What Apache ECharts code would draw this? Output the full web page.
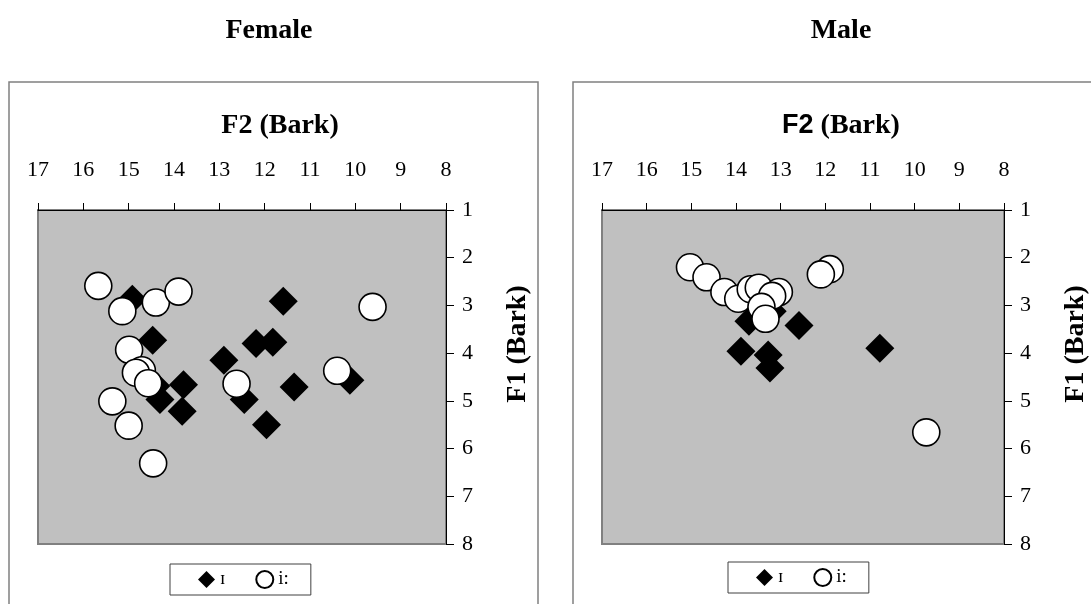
<!DOCTYPE html>
<html>
<head>
<meta charset="utf-8">
<script src="https://cdn.jsdelivr.net/npm/echarts@6/dist/echarts.min.js"></script>
<style>
html,body{margin:0;padding:0;background:#fff;}
#c{width:1091px;height:604px;}
</style>
</head>
<body>
<div id="c"></div>
<script>
// Data: [F2 (Bark), F1 (Bark)]
const femaleI = [
  [14.92, 2.87], [14.47, 3.73], [11.59, 2.91], [12.19, 3.80], [11.82, 3.77],
  [12.90, 4.15], [13.79, 4.66], [14.40, 4.69], [14.31, 4.97], [13.82, 5.22],
  [12.45, 4.97], [11.35, 4.71], [11.96, 5.50], [10.12, 4.57]
];
const femaleII = [
  [15.67, 2.59], [15.14, 3.12], [14.40, 2.94], [13.90, 2.71], [9.62, 3.03],
  [14.99, 3.93], [14.71, 4.36], [14.84, 4.41], [14.57, 4.63], [12.62, 4.64],
  [10.40, 4.37], [15.36, 5.01], [15.00, 5.52], [14.46, 6.31]
];
const maleI = [
  [12.59, 3.42], [10.78, 3.90], [13.89, 3.96], [13.28, 4.04], [13.24, 4.31],
  [13.71, 3.33], [13.19, 3.12]
];
const maleII = [
  [15.03, 2.20], [14.66, 2.41], [14.26, 2.72], [13.95, 2.86], [13.67, 2.66],
  [13.49, 2.63], [13.04, 2.72], [13.19, 2.80], [13.43, 3.03], [13.34, 3.28],
  [11.90, 2.24], [12.10, 2.35], [9.74, 5.66]
];
const seriesNames = ['ɪ', 'i:'];
const panelTitles = ['Female', 'Male'];
const xName = 'F2 (Bark)';
const yName = 'F1 (Bark)';

const SERIF = '"Liberation Serif","Times New Roman",serif';
const SANS = '"Liberation Sans",Arial,sans-serif';

const chart = echarts.init(document.getElementById('c'), null, {renderer: 'canvas'});

function xAxisFor(idx, richName) {
  return {
    gridIndex: idx, type: 'value', min: 8, max: 17, interval: 1, inverse: true,
    position: 'top',
    name: richName, nameLocation: 'middle', nameGap: 70,
    nameTextStyle: {
      fontFamily: SERIF, fontWeight: 'bold', fontSize: 28, color: '#000',
      padding: [0, 0, 0, 76],
      rich: {
        s: {fontFamily: SANS, fontWeight: 'bold', fontSize: 27, color: '#000'},
        t: {fontFamily: SERIF, fontWeight: 'bold', fontSize: 28, color: '#000'}
      }
    },
    axisLine: {show: true, lineStyle: {color: '#000', width: 1}},
    axisTick: {show: true, inside: false, length: 7, lineStyle: {color: '#000'}},
    axisLabel: {fontFamily: SERIF, fontSize: 22, color: '#000', margin: 29},
    splitLine: {show: false}
  };
}
function yAxisFor(idx) {
  return {
    gridIndex: idx, type: 'value', min: 1, max: 8, interval: 1, inverse: true,
    position: 'right',
    name: yName, nameLocation: 'middle', nameGap: 58, nameRotate: 90,
    nameTextStyle: {
      fontFamily: SERIF, fontWeight: 'bold', fontSize: 28, color: '#000',
      padding: [0, 0, 0, 66]
    },
    axisLine: {show: true, lineStyle: {color: '#000', width: 1}},
    axisTick: {show: true, inside: false, length: 8, lineStyle: {color: '#000'}},
    axisLabel: {fontFamily: SERIF, fontSize: 22, color: '#000', margin: 16},
    splitLine: {show: false}
  };
}
function diamondSeries(idx, data) {
  return {
    name: seriesNames[0], type: 'scatter', xAxisIndex: idx, yAxisIndex: idx,
    symbol: 'diamond', symbolSize: 29, data: data,
    itemStyle: {color: '#000', borderColor: '#000', borderWidth: 0, opacity: 1},
    emphasis: {disabled: true}, z: 2
  };
}
function circleSeries(idx, data) {
  return {
    name: seriesNames[1], type: 'scatter', xAxisIndex: idx, yAxisIndex: idx,
    symbol: 'circle', symbolSize: 27, data: data,
    itemStyle: {color: '#fff', borderColor: '#000', borderWidth: 1.6, opacity: 1},
    emphasis: {disabled: true}, z: 3
  };
}
function legendFor(left, top) {
  return {
    left: left, top: top, orient: 'horizontal',
    data: [
      {name: seriesNames[0], icon: 'diamond'},
      {name: seriesNames[1], icon: 'circle'}
    ],
    itemWidth: 17, itemHeight: 17, itemGap: 30,
    padding: [6, 22, 6, 28],
    borderColor: '#404040', borderWidth: 1,
    backgroundColor: '#fff',
    textStyle: {fontFamily: SERIF, fontSize: 19, color: '#000'},
    selectedMode: false
  };
}

chart.setOption({
  animation: false,
  backgroundColor: '#fff',
  title: [
    {text: panelTitles[0], left: 264, top: 12, textAlign: 'center',
     textStyle: {fontFamily: SERIF, fontWeight: 'bold', fontSize: 28, color: '#000'}},
    {text: panelTitles[1], left: 836, top: 12, textAlign: 'center',
     textStyle: {fontFamily: SERIF, fontWeight: 'bold', fontSize: 28, color: '#000'}}
  ],
  graphic: [
    {type: 'rect', shape: {x: 9, y: 82, width: 529, height: 560},
     style: {fill: 'none', stroke: '#808080', lineWidth: 1.5}, z: -10, silent: true},
    {type: 'rect', shape: {x: 573, y: 82, width: 560, height: 560},
     style: {fill: 'none', stroke: '#808080', lineWidth: 1.5}, z: -10, silent: true}
  ],
  grid: [
    {left: 38, top: 210, width: 408, height: 334, show: true,
     backgroundColor: '#C0C0C0', borderColor: '#808080', borderWidth: 2},
    {left: 602, top: 210, width: 408, height: 334, show: true,
     backgroundColor: '#C0C0C0', borderColor: '#808080', borderWidth: 2}
  ],
  xAxis: [
    xAxisFor(0, '{t|F2 (Bark)}'),
    xAxisFor(1, '{s|F2} {t|(Bark)}')
  ],
  yAxis: [yAxisFor(0), yAxisFor(1)],
  legend: [legendFor(170, 564), legendFor(728, 562)],
  series: [
    diamondSeries(0, femaleI), circleSeries(0, femaleII),
    diamondSeries(1, maleI), circleSeries(1, maleII)
  ]
});
</script>
</body>
</html>
